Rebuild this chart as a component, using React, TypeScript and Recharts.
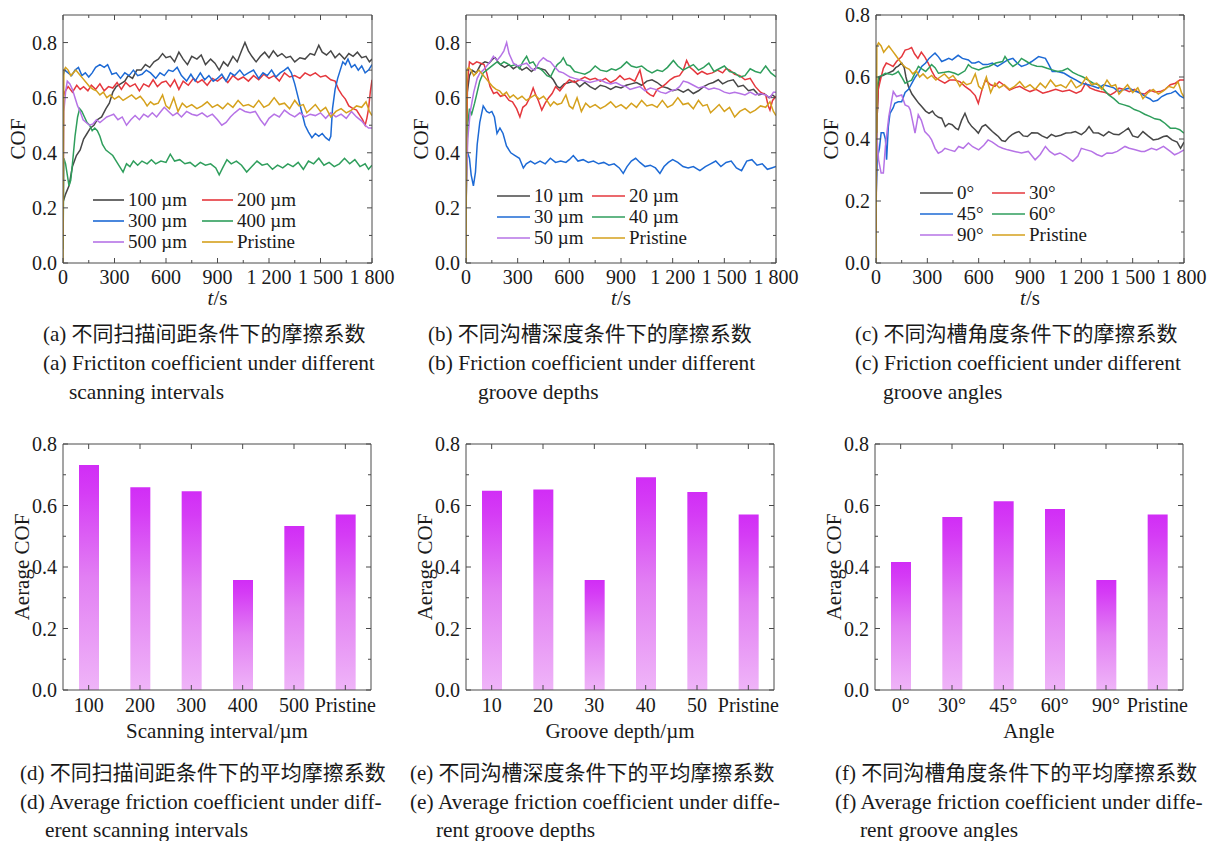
import React from 'react';
import { LineChart, Line, BarChart, Bar, XAxis, YAxis, Legend } from 'recharts';

type P = [number, number][];

// ---------- tick values / labels ----------
const TIME_MAJOR = [0, 300, 600, 900, 1200, 1500, 1800];
const TIME_LABELS = ['0', '300', '600', '900', '1 200', '1 500', '1 800'];
const TIME_MINOR = [150, 450, 750, 1050, 1350, 1650];
const COF_MAJOR = [0, 0.2, 0.4, 0.6, 0.8];
const COF_LABELS = ['0.0', '0.2', '0.4', '0.6', '0.8'];
const COF_MINOR = [0.1, 0.3, 0.5, 0.7];

// ---------- (a) scanning interval ----------
const A_NAMES = ['100 µm', '200 µm', '300 µm', '400 µm', '500 µm', 'Pristine'];
const A_100: P = [[0,0.22],[15,0.25],[35,0.28],[55,0.35],[78,0.39],[100,0.41],[120,0.45],[140,0.47],[160,0.49],[180,0.50],[200,0.52],[225,0.53],[250,0.56],[270,0.58],[290,0.62],[310,0.64],[335,0.65],[360,0.66],[380,0.68],[405,0.67],[430,0.70],[455,0.70],[480,0.72],[505,0.71],[530,0.73],[555,0.74],[580,0.76],[600,0.745],[625,0.75],[650,0.73],[675,0.765],[700,0.74],[725,0.72],[750,0.75],[780,0.74],[805,0.755],[830,0.72],[860,0.74],[885,0.725],[910,0.70],[935,0.73],[960,0.715],[990,0.75],[1015,0.73],[1040,0.77],[1060,0.80],[1080,0.77],[1100,0.75],[1125,0.73],[1150,0.75],[1175,0.765],[1200,0.745],[1225,0.77],[1250,0.75],[1275,0.76],[1300,0.745],[1325,0.75],[1350,0.73],[1380,0.745],[1410,0.74],[1440,0.76],[1465,0.755],[1490,0.79],[1510,0.765],[1535,0.755],[1560,0.77],[1585,0.745],[1610,0.76],[1640,0.74],[1665,0.76],[1690,0.75],[1715,0.765],[1740,0.745],[1765,0.75],[1785,0.73],[1800,0.74]];
const A_200: P = [[0,0.60],[10,0.62],[30,0.64],[55,0.62],[80,0.645],[100,0.63],[120,0.64],[145,0.625],[165,0.645],[190,0.63],[215,0.65],[240,0.625],[265,0.64],[290,0.635],[315,0.655],[340,0.63],[365,0.655],[390,0.64],[420,0.65],[445,0.625],[470,0.65],[500,0.64],[525,0.665],[550,0.64],[575,0.655],[600,0.66],[625,0.64],[650,0.665],[675,0.63],[700,0.66],[730,0.645],[760,0.67],[785,0.655],[810,0.665],[840,0.645],[870,0.67],[900,0.66],[930,0.675],[960,0.655],[990,0.68],[1020,0.665],[1050,0.675],[1080,0.66],[1110,0.68],[1140,0.665],[1170,0.685],[1200,0.67],[1230,0.68],[1260,0.66],[1290,0.69],[1320,0.675],[1350,0.68],[1380,0.67],[1410,0.69],[1440,0.68],[1470,0.69],[1500,0.675],[1530,0.68],[1560,0.665],[1585,0.66],[1605,0.63],[1625,0.61],[1645,0.595],[1665,0.57],[1690,0.56],[1710,0.555],[1730,0.535],[1745,0.52],[1760,0.50],[1770,0.525],[1780,0.56],[1790,0.62],[1800,0.665]];
const A_300: P = [[0,0.68],[10,0.70],[30,0.69],[50,0.68],[70,0.70],[90,0.71],[110,0.68],[130,0.69],[150,0.675],[170,0.69],[190,0.71],[215,0.72],[240,0.71],[260,0.72],[285,0.685],[310,0.69],[335,0.67],[360,0.69],[385,0.68],[410,0.70],[435,0.68],[460,0.685],[485,0.70],[510,0.69],[540,0.67],[565,0.69],[590,0.68],[615,0.70],[640,0.695],[665,0.71],[690,0.68],[720,0.66],[745,0.685],[770,0.66],[800,0.69],[825,0.665],[850,0.68],[875,0.66],[900,0.67],[925,0.685],[950,0.66],[975,0.69],[1000,0.68],[1030,0.70],[1055,0.68],[1080,0.69],[1110,0.70],[1140,0.67],[1165,0.69],[1190,0.68],[1215,0.70],[1240,0.675],[1265,0.69],[1290,0.70],[1310,0.71],[1330,0.69],[1350,0.65],[1370,0.60],[1390,0.55],[1410,0.50],[1430,0.475],[1450,0.455],[1470,0.47],[1490,0.46],[1510,0.47],[1530,0.455],[1550,0.445],[1560,0.46],[1570,0.56],[1585,0.63],[1600,0.67],[1615,0.70],[1630,0.73],[1645,0.72],[1660,0.74],[1680,0.71],[1700,0.72],[1720,0.70],[1740,0.715],[1760,0.69],[1780,0.70],[1800,0.72]];
const A_400: P = [[0,0.05],[5,0.38],[15,0.36],[25,0.32],[35,0.28],[45,0.30],[55,0.36],[70,0.46],[85,0.53],[97,0.56],[110,0.55],[125,0.53],[140,0.51],[155,0.50],[170,0.48],[185,0.49],[200,0.48],[215,0.46],[230,0.43],[250,0.41],[270,0.40],[290,0.39],[310,0.37],[330,0.35],[350,0.33],[370,0.36],[390,0.35],[410,0.37],[435,0.355],[460,0.37],[490,0.36],[515,0.375],[540,0.36],[570,0.37],[600,0.365],[625,0.395],[650,0.37],[680,0.375],[710,0.36],[740,0.365],[770,0.35],[800,0.365],[830,0.355],[860,0.36],[890,0.345],[910,0.32],[930,0.345],[955,0.375],[980,0.36],[1010,0.37],[1040,0.355],[1070,0.33],[1100,0.35],[1130,0.37],[1160,0.355],[1190,0.36],[1220,0.34],[1250,0.355],[1280,0.345],[1310,0.36],[1340,0.35],[1370,0.365],[1400,0.34],[1430,0.37],[1460,0.36],[1490,0.38],[1520,0.355],[1550,0.365],[1580,0.35],[1610,0.36],[1640,0.38],[1670,0.36],[1700,0.375],[1730,0.35],[1760,0.36],[1780,0.34],[1800,0.355]];
const A_500: P = [[0,0.10],[5,0.55],[15,0.62],[25,0.66],[40,0.65],[55,0.63],[70,0.60],[85,0.57],[100,0.55],[117,0.52],[135,0.51],[155,0.50],[175,0.505],[195,0.52],[215,0.51],[235,0.52],[255,0.53],[275,0.535],[295,0.54],[320,0.52],[345,0.53],[370,0.50],[395,0.52],[420,0.535],[445,0.52],[470,0.54],[495,0.53],[520,0.545],[545,0.53],[570,0.55],[590,0.565],[615,0.55],[640,0.535],[665,0.545],[690,0.53],[720,0.55],[750,0.54],[780,0.535],[810,0.545],[840,0.53],[870,0.54],[900,0.52],[925,0.50],[950,0.51],[975,0.53],[1000,0.545],[1030,0.56],[1060,0.55],[1090,0.545],[1120,0.55],[1150,0.52],[1175,0.50],[1200,0.525],[1230,0.54],[1260,0.53],[1290,0.555],[1320,0.54],[1350,0.53],[1380,0.545],[1410,0.53],[1440,0.54],[1470,0.535],[1500,0.545],[1530,0.525],[1560,0.545],[1590,0.53],[1620,0.54],[1650,0.525],[1680,0.55],[1710,0.53],[1740,0.515],[1760,0.50],[1780,0.49],[1800,0.49]];
const PRISTINE: P = [[0,0.0],[5,0.70],[15,0.71],[30,0.70],[45,0.68],[60,0.69],[75,0.70],[95,0.685],[115,0.67],[135,0.655],[155,0.64],[175,0.63],[195,0.625],[215,0.61],[235,0.62],[255,0.60],[275,0.61],[300,0.595],[325,0.605],[350,0.59],[375,0.60],[400,0.61],[425,0.595],[450,0.605],[470,0.59],[490,0.57],[510,0.585],[530,0.575],[555,0.58],[580,0.61],[600,0.57],[620,0.56],[645,0.60],[670,0.55],[695,0.58],[720,0.565],[750,0.575],[780,0.56],[810,0.57],[840,0.585],[870,0.565],[900,0.575],[930,0.56],[960,0.58],[990,0.565],[1020,0.59],[1050,0.57],[1080,0.575],[1110,0.565],[1140,0.59],[1170,0.565],[1200,0.575],[1230,0.60],[1260,0.575],[1290,0.58],[1320,0.56],[1350,0.59],[1375,0.57],[1400,0.575],[1420,0.545],[1445,0.56],[1470,0.575],[1500,0.55],[1530,0.565],[1560,0.53],[1590,0.55],[1620,0.56],[1650,0.545],[1680,0.555],[1710,0.57],[1740,0.565],[1765,0.585],[1785,0.55],[1800,0.535]];

// ---------- (b) groove depth ----------
const B_NAMES = ['10 µm', '20 µm', '30 µm', '40 µm', '50 µm', 'Pristine'];
const B_10: P = [[0,0.3],[8,0.62],[20,0.68],[35,0.70],[60,0.69],[85,0.72],[110,0.73],[135,0.725],[155,0.74],[170,0.745],[185,0.73],[200,0.72],[225,0.71],[250,0.72],[275,0.705],[300,0.715],[325,0.70],[352,0.71],[380,0.695],[410,0.71],[435,0.705],[460,0.70],[485,0.68],[507,0.665],[530,0.64],[546,0.635],[570,0.65],[600,0.655],[630,0.66],[660,0.64],[690,0.655],[720,0.64],[750,0.63],[780,0.645],[810,0.64],[840,0.63],[870,0.64],[900,0.635],[930,0.645],[960,0.65],[990,0.655],[1020,0.645],[1050,0.66],[1080,0.665],[1110,0.655],[1140,0.64],[1170,0.635],[1200,0.625],[1230,0.63],[1262,0.62],[1290,0.63],[1320,0.615],[1350,0.625],[1380,0.64],[1410,0.65],[1436,0.655],[1465,0.665],[1490,0.65],[1520,0.66],[1552,0.665],[1580,0.64],[1610,0.645],[1640,0.625],[1670,0.63],[1700,0.61],[1730,0.615],[1760,0.60],[1780,0.61],[1800,0.60]];
const B_20: P = [[0,0.2],[8,0.65],[20,0.73],[40,0.72],[62,0.73],[85,0.725],[105,0.72],[120,0.69],[140,0.64],[160,0.615],[180,0.62],[200,0.605],[225,0.61],[250,0.59],[270,0.585],[294,0.56],[313,0.53],[330,0.565],[350,0.575],[370,0.60],[390,0.635],[405,0.61],[420,0.59],[440,0.555],[460,0.58],[480,0.60],[500,0.615],[520,0.64],[545,0.625],[570,0.645],[600,0.665],[630,0.655],[660,0.665],[690,0.675],[720,0.665],[750,0.67],[780,0.66],[810,0.67],[840,0.655],[870,0.665],[894,0.68],[920,0.665],[950,0.67],[980,0.66],[1010,0.70],[1030,0.645],[1050,0.62],[1070,0.61],[1088,0.605],[1110,0.63],[1140,0.64],[1160,0.65],[1185,0.665],[1210,0.675],[1240,0.68],[1262,0.70],[1281,0.735],[1300,0.71],[1320,0.70],[1345,0.685],[1370,0.695],[1400,0.685],[1430,0.69],[1460,0.70],[1490,0.69],[1510,0.705],[1532,0.70],[1560,0.685],[1590,0.68],[1620,0.665],[1650,0.67],[1680,0.64],[1710,0.62],[1740,0.61],[1755,0.57],[1765,0.555],[1780,0.59],[1800,0.605]];
const B_30: P = [[0,0.38],[10,0.40],[20,0.38],[30,0.32],[43,0.28],[55,0.33],[65,0.43],[80,0.51],[100,0.57],[120,0.55],[135,0.545],[150,0.55],[165,0.53],[180,0.47],[197,0.49],[215,0.47],[235,0.425],[260,0.40],[285,0.39],[310,0.38],[333,0.345],[350,0.36],[375,0.37],[400,0.36],[430,0.37],[460,0.36],[490,0.38],[520,0.365],[550,0.37],[580,0.365],[600,0.375],[623,0.39],[650,0.37],[680,0.375],[710,0.365],[740,0.37],[770,0.36],[800,0.365],[830,0.355],[860,0.36],[890,0.345],[913,0.325],[935,0.35],[960,0.37],[985,0.38],[1010,0.365],[1040,0.35],[1070,0.355],[1100,0.345],[1126,0.325],[1150,0.35],[1175,0.365],[1200,0.375],[1230,0.365],[1260,0.35],[1290,0.345],[1320,0.35],[1358,0.335],[1390,0.35],[1420,0.36],[1450,0.37],[1480,0.35],[1510,0.365],[1540,0.37],[1570,0.345],[1600,0.335],[1630,0.37],[1660,0.375],[1690,0.355],[1720,0.36],[1750,0.34],[1775,0.345],[1800,0.35]];
const B_40: P = [[0,0.2],[10,0.5],[20,0.56],[33,0.54],[50,0.58],[65,0.62],[80,0.66],[100,0.69],[120,0.70],[140,0.71],[160,0.72],[180,0.73],[200,0.72],[220,0.73],[236,0.725],[260,0.715],[290,0.72],[310,0.705],[330,0.73],[352,0.75],[370,0.725],[390,0.73],[410,0.71],[430,0.705],[449,0.695],[470,0.68],[490,0.675],[510,0.70],[530,0.72],[550,0.73],[565,0.745],[585,0.72],[605,0.715],[630,0.695],[660,0.69],[690,0.685],[720,0.695],[750,0.715],[780,0.70],[817,0.695],[845,0.705],[870,0.70],[900,0.71],[933,0.73],[960,0.715],[990,0.71],[1020,0.715],[1050,0.70],[1080,0.69],[1110,0.70],[1140,0.695],[1170,0.71],[1204,0.735],[1230,0.715],[1260,0.70],[1290,0.71],[1320,0.72],[1350,0.70],[1380,0.71],[1410,0.725],[1440,0.695],[1470,0.705],[1500,0.715],[1530,0.695],[1560,0.69],[1590,0.675],[1620,0.68],[1650,0.705],[1680,0.695],[1710,0.69],[1740,0.715],[1770,0.69],[1800,0.675]];
const B_50: P = [[0,0.2],[10,0.45],[25,0.55],[45,0.62],[65,0.67],[81,0.69],[100,0.70],[120,0.715],[140,0.73],[159,0.75],[180,0.735],[200,0.75],[220,0.77],[236,0.80],[250,0.76],[275,0.725],[300,0.715],[325,0.72],[352,0.725],[380,0.705],[400,0.70],[425,0.73],[449,0.745],[470,0.735],[490,0.73],[510,0.715],[540,0.695],[565,0.69],[590,0.68],[604,0.675],[630,0.67],[660,0.665],[690,0.66],[720,0.655],[750,0.66],[780,0.665],[810,0.655],[840,0.65],[870,0.655],[900,0.645],[930,0.64],[952,0.63],[980,0.635],[1010,0.64],[1040,0.625],[1070,0.635],[1100,0.63],[1130,0.62],[1160,0.615],[1190,0.625],[1220,0.63],[1240,0.64],[1262,0.66],[1290,0.655],[1320,0.645],[1350,0.635],[1380,0.64],[1410,0.63],[1440,0.635],[1470,0.63],[1500,0.62],[1530,0.615],[1560,0.62],[1590,0.615],[1620,0.61],[1650,0.62],[1680,0.61],[1710,0.615],[1740,0.61],[1765,0.60],[1785,0.62],[1800,0.62]];

// ---------- (c) groove angle ----------
const C_NAMES = ['0°', '30°', '45°', '60°', '90°', 'Pristine'];
const C_0: P = [[0,0.2],[5,0.45],[15,0.58],[23,0.60],[40,0.605],[60,0.61],[80,0.615],[100,0.62],[115,0.63],[130,0.635],[150,0.645],[165,0.63],[175,0.60],[189,0.57],[210,0.545],[230,0.53],[250,0.515],[267,0.505],[290,0.49],[310,0.483],[330,0.49],[345,0.478],[365,0.47],[384,0.467],[405,0.44],[425,0.45],[445,0.446],[465,0.435],[481,0.43],[500,0.46],[520,0.483],[540,0.455],[560,0.44],[580,0.43],[598,0.419],[620,0.44],[640,0.446],[660,0.435],[680,0.424],[700,0.415],[715,0.408],[735,0.395],[755,0.392],[775,0.405],[795,0.414],[815,0.42],[835,0.424],[860,0.41],[885,0.408],[910,0.42],[945,0.419],[970,0.41],[1000,0.403],[1025,0.415],[1050,0.408],[1080,0.412],[1110,0.419],[1140,0.42],[1165,0.424],[1200,0.414],[1225,0.425],[1245,0.44],[1270,0.42],[1300,0.419],[1330,0.41],[1360,0.424],[1390,0.415],[1420,0.414],[1450,0.425],[1475,0.435],[1500,0.41],[1530,0.405],[1560,0.424],[1590,0.41],[1620,0.397],[1650,0.40],[1680,0.408],[1700,0.41],[1730,0.397],[1760,0.39],[1780,0.37],[1800,0.39]];
const C_30: P = [[0,0.1],[5,0.45],[13,0.56],[30,0.60],[43,0.628],[60,0.645],[80,0.64],[100,0.634],[120,0.65],[150,0.666],[170,0.687],[190,0.69],[208,0.695],[225,0.675],[245,0.66],[265,0.68],[285,0.665],[305,0.645],[325,0.62],[345,0.60],[370,0.59],[402,0.58],[430,0.59],[460,0.59],[490,0.585],[520,0.57],[550,0.558],[580,0.54],[598,0.515],[620,0.56],[640,0.59],[670,0.575],[695,0.57],[720,0.585],[745,0.575],[780,0.558],[810,0.565],[840,0.57],[870,0.56],[900,0.553],[935,0.56],[975,0.548],[1010,0.553],[1050,0.56],[1090,0.553],[1130,0.558],[1170,0.548],[1200,0.555],[1225,0.58],[1250,0.565],[1280,0.558],[1310,0.553],[1340,0.55],[1370,0.542],[1395,0.55],[1420,0.564],[1450,0.56],[1480,0.553],[1510,0.56],[1540,0.548],[1570,0.545],[1600,0.558],[1630,0.552],[1660,0.553],[1690,0.56],[1720,0.575],[1750,0.58],[1775,0.59],[1800,0.59]];
const C_45: P = [[0,0.2],[8,0.34],[20,0.37],[30,0.42],[45,0.42],[55,0.40],[62,0.333],[72,0.44],[82,0.483],[100,0.50],[110,0.515],[130,0.52],[150,0.52],[170,0.55],[190,0.56],[210,0.58],[230,0.60],[250,0.615],[267,0.634],[290,0.645],[310,0.66],[330,0.67],[345,0.677],[365,0.665],[384,0.65],[405,0.655],[425,0.66],[445,0.655],[480,0.67],[505,0.66],[540,0.655],[560,0.645],[579,0.645],[600,0.65],[625,0.64],[650,0.64],[680,0.645],[710,0.634],[740,0.645],[770,0.655],[800,0.66],[825,0.645],[850,0.634],[880,0.64],[910,0.65],[950,0.666],[990,0.66],[1010,0.64],[1030,0.618],[1060,0.618],[1100,0.612],[1135,0.60],[1170,0.59],[1200,0.58],[1240,0.575],[1270,0.57],[1300,0.564],[1330,0.575],[1360,0.57],[1390,0.565],[1420,0.553],[1450,0.56],[1480,0.564],[1510,0.555],[1540,0.55],[1560,0.542],[1580,0.535],[1600,0.53],[1620,0.521],[1645,0.525],[1670,0.537],[1700,0.545],[1725,0.548],[1750,0.555],[1775,0.54],[1800,0.532]];
const C_60: P = [[0,0.2],[5,0.55],[14,0.60],[35,0.605],[55,0.612],[75,0.61],[95,0.607],[115,0.612],[130,0.618],[150,0.60],[170,0.58],[190,0.585],[208,0.59],[230,0.615],[248,0.634],[270,0.625],[290,0.618],[310,0.63],[325,0.64],[345,0.63],[365,0.612],[400,0.615],[425,0.618],[460,0.612],[480,0.607],[520,0.62],[540,0.64],[560,0.63],[600,0.623],[630,0.63],[660,0.634],[700,0.645],[740,0.65],[754,0.666],[780,0.645],[800,0.634],[830,0.645],[850,0.66],[880,0.65],[910,0.64],[940,0.635],[970,0.634],[1000,0.628],[1030,0.623],[1060,0.618],[1090,0.62],[1120,0.628],[1150,0.615],[1180,0.607],[1210,0.60],[1240,0.59],[1270,0.58],[1300,0.575],[1330,0.56],[1360,0.542],[1390,0.53],[1420,0.515],[1450,0.51],[1480,0.505],[1510,0.495],[1540,0.489],[1570,0.48],[1600,0.473],[1630,0.465],[1660,0.462],[1690,0.45],[1720,0.435],[1750,0.435],[1775,0.43],[1800,0.419]];
const C_90: P = [[0,0.15],[4,0.42],[15,0.333],[30,0.29],[43,0.29],[55,0.376],[75,0.473],[90,0.52],[101,0.553],[120,0.537],[150,0.542],[170,0.51],[190,0.505],[200,0.494],[213,0.46],[228,0.419],[247,0.478],[265,0.46],[285,0.424],[310,0.41],[325,0.397],[345,0.37],[364,0.354],[385,0.36],[403,0.37],[430,0.365],[460,0.36],[483,0.376],[510,0.37],[540,0.387],[565,0.375],[600,0.365],[630,0.38],[655,0.397],[680,0.39],[715,0.376],[740,0.37],[770,0.365],[810,0.36],[850,0.355],[890,0.36],[930,0.333],[960,0.35],[990,0.376],[1015,0.36],[1045,0.349],[1075,0.355],[1110,0.344],[1150,0.328],[1180,0.345],[1200,0.37],[1230,0.365],[1260,0.36],[1290,0.35],[1320,0.344],[1350,0.355],[1380,0.354],[1410,0.36],[1455,0.376],[1480,0.37],[1515,0.365],[1550,0.36],[1570,0.36],[1610,0.37],[1640,0.365],[1680,0.376],[1720,0.36],[1745,0.349],[1770,0.355],[1800,0.365]];

// ---------- bar panels ----------
const D_CATS = ['100', '200', '300', '400', '500', 'Pristine'];
const D_VALUES = [0.732, 0.659, 0.646, 0.358, 0.533, 0.571];
const E_CATS = ['10', '20', '30', '40', '50', 'Pristine'];
const E_VALUES = [0.648, 0.652, 0.358, 0.692, 0.644, 0.571];
const F_CATS = ['0°', '30°', '45°', '60°', '90°', 'Pristine'];
const F_VALUES = [0.416, 0.563, 0.614, 0.589, 0.358, 0.571];

const COLORS = ['#474747', '#e5373d', '#1d6ad5', '#2f9e5c', '#b673e6', '#d5a11d'];

const CAPTIONS_TOP = [
  ['(a) 不同扫描间距条件下的摩擦系数', '(a) Frictiton coefficient under different', 'scanning intervals'],
  ['(b) 不同沟槽深度条件下的摩擦系数', '(b) Friction coefficient under different', 'groove depths'],
  ['(c) 不同沟槽角度条件下的摩擦系数', '(c) Friction coefficient under different', 'groove angles'],
];
const CAPTIONS_BOTTOM = [
  ['(d) 不同扫描间距条件下的平均摩擦系数', '(d) Average friction coefficient under diff-', 'erent scanning intervals'],
  ['(e) 不同沟槽深度条件下的平均摩擦系数', '(e) Average friction coefficient under diffe-', 'rent groove depths'],
  ['(f) 不同沟槽角度条件下的平均摩擦系数', '(f) Average friction coefficient under diffe-', 'rent groove angles'],
];

// ---------- styling ----------
const SERIF = '"Liberation Serif", "Times New Roman", serif';
const CJK = '"Liberation Serif", "Noto Sans CJK SC", sans-serif';
const AX = '#4a4a4a';
const TXT = '#1a1a1a';

const sortNum = (a: number[]) => [...a].sort((x, y) => x - y);
const near = (a: number, b: number) => Math.abs(a - b) < 1e-9;
const labelFrom = (vals: number[], labels: string[]) => (v: number) => {
  const i = vals.findIndex((u) => near(u, v));
  return i >= 0 ? labels[i] : null;
};
const isIn = (vals: number[]) => (v: number) => vals.some((u) => near(u, v));

type Side = 'bottom' | 'top' | 'left' | 'right';
const makeTick = (side: Side, labelOf: ((v: any) => string | null) | null, isMajor: (v: any) => boolean, labelOff = 14) =>
  (props: any) => {
    const { x, y, payload } = props;
    const v = payload.value;
    const len = isMajor(v) ? 5 : 3;
    let x2 = x, y2 = y;
    if (side === 'bottom') y2 = y - len;
    else if (side === 'top') y2 = y + len;
    else if (side === 'left') x2 = x + len;
    else x2 = x - len;
    const lab = labelOf ? labelOf(v) : null;
    return (
      <g>
        <line x1={x} y1={y} x2={x2} y2={y2} stroke={AX} strokeWidth={1} />
        {lab != null && side === 'bottom' && (
          <text x={x} y={y + labelOff} textAnchor="middle" dominantBaseline="central" fontFamily={SERIF} fontSize={20} fill={TXT}>{lab}</text>
        )}
        {lab != null && side === 'left' && (
          <text x={x - 6} y={y} textAnchor="end" dominantBaseline="central" fontFamily={SERIF} fontSize={20} fill={TXT}>{lab}</text>
        )}
      </g>
    );
  };

const yTitle = (text: string, off: number) => (p: any) => {
  const vb = p.viewBox || {};
  const cx = vb.x + vb.width - off;
  const cy = vb.y + vb.height / 2;
  return (
    <text x={cx} y={cy} transform={`rotate(-90 ${cx} ${cy})`} textAnchor="middle" dominantBaseline="central" fontFamily={SERIF} fontSize={21} fill={TXT}>{text}</text>
  );
};
const xTitle = (content: React.ReactNode, off: number) => (p: any) => {
  const vb = p.viewBox || {};
  return (
    <text x={vb.x + vb.width / 2} y={vb.y + off} textAnchor="middle" dominantBaseline="central" fontFamily={SERIF} fontSize={21} fill={TXT}>{content}</text>
  );
};

function LegendGrid({ names, colW, lineW, rowH }: { names: string[]; colW: number; lineW: number; rowH: number }) {
  return (
    <div style={{ display: 'grid', gridTemplateColumns: `${colW}px auto`, fontFamily: SERIF, fontSize: 19, color: TXT }}>
      {names.map((n, i) => (
        <div key={n} style={{ display: 'flex', alignItems: 'center', height: rowH, whiteSpace: 'nowrap' }}>
          <svg width={lineW} height={4} style={{ marginRight: 4, flex: 'none' }}>
            <line x1={0} y1={2} x2={lineW} y2={2} stroke={COLORS[i]} strokeWidth={1.6} />
          </svg>
          <span style={{ lineHeight: 1 }}>{n}</span>
        </div>
      ))}
    </div>
  );
}

const toPts = (p: P) => p.map(([t, v]) => ({ t, v }));

function LinePanel(props: { plotLeft: number; plotW: number; yMax: number; series: P[]; names: string[]; legend: { left: number; top: number; colW: number; lineW: number; rowH: number } }) {
  const { plotLeft, plotW, yMax, series, names, legend } = props;
  const plotTop = 15, plotH = 248, bottomH = 50;
  const W = 63 + plotW + 30, H = 15 + plotH + bottomH;
  const timeAll = sortNum([...TIME_MAJOR, ...TIME_MINOR]);
  const yMinor = COF_MINOR.filter((v) => v < yMax);
  const yAll = sortNum([...COF_MAJOR, ...yMinor]);
  const tLab = labelFrom(TIME_MAJOR, TIME_LABELS);
  const yLab = labelFrom(COF_MAJOR, COF_LABELS);
  return (
    <div style={{ position: 'absolute', left: plotLeft - 63, top: plotTop - 15, width: W, height: H }}>
      <LineChart width={W} height={H} margin={{ top: 10, right: 25, bottom: 0, left: 0 }}>
        <XAxis xAxisId="b" dataKey="t" type="number" domain={[0, 1800]} allowDataOverflow ticks={timeAll} interval={0} tickSize={0} tickMargin={0}
          tick={makeTick('bottom', tLab, isIn(TIME_MAJOR), 14)} axisLine={{ stroke: AX }} height={bottomH}
          label={xTitle(<><tspan fontStyle="italic">t</tspan><tspan>/s</tspan></>, 35)} />
        <XAxis xAxisId="t" orientation="top" dataKey="t" type="number" domain={[0, 1800]} allowDataOverflow ticks={timeAll} interval={0} tickSize={0} tickMargin={0}
          tick={makeTick('top', null, isIn(TIME_MAJOR))} axisLine={{ stroke: AX }} height={5} />
        <YAxis yAxisId="l" type="number" domain={[0, yMax]} allowDataOverflow ticks={yAll} interval={0} tickSize={0} tickMargin={0}
          tick={makeTick('left', yLab, isIn(COF_MAJOR))} axisLine={{ stroke: AX }} width={63} label={yTitle('COF', 45)} />
        <YAxis yAxisId="r" orientation="right" type="number" domain={[0, yMax]} allowDataOverflow ticks={yAll} interval={0} tickSize={0} tickMargin={0}
          tick={makeTick('right', null, isIn(COF_MAJOR))} axisLine={{ stroke: AX }} width={5} />
        {series.map((s, i) => (
          <Line key={names[i]} name={names[i]} xAxisId="b" yAxisId="l" data={toPts(s)} dataKey="v" type="linear" stroke={COLORS[i]} strokeWidth={1.5} dot={false} activeDot={false} isAnimationActive={false} />
        ))}
        <Legend layout="vertical" align="center" verticalAlign="middle"
          wrapperStyle={{ left: legend.left, top: legend.top, width: 'auto', height: 'auto', bottom: 'auto', right: 'auto' }}
          content={() => <LegendGrid names={names} colW={legend.colW} lineW={legend.lineW} rowH={legend.rowH} />} />
      </LineChart>
    </div>
  );
}

function BarPanel(props: { plotLeft: number; cats: string[]; values: number[]; xLabel: string }) {
  const { plotLeft, cats, values, xLabel } = props;
  const plotTop = 444, plotW = 308, plotH = 246, bottomH = 65;
  const W = 63 + plotW + 30, H = 15 + plotH + bottomH;
  const rows = cats.map((c, i) => ({ name: c, value: values[i] }));
  const yAll = sortNum([...COF_MAJOR, ...COF_MINOR]);
  const yLab = labelFrom(COF_MAJOR, COF_LABELS);
  return (
    <div style={{ position: 'absolute', left: plotLeft - 63, top: plotTop - 15, width: W, height: H }}>
      <BarChart width={W} height={H} data={rows} margin={{ top: 10, right: 25, bottom: 0, left: 0 }} barSize={20}>
        <XAxis xAxisId="b" dataKey="name" type="category" interval={0} tickSize={0} tickMargin={0}
          tick={makeTick('bottom', (v) => String(v), () => true, 15)} axisLine={{ stroke: AX }} height={bottomH}
          label={xTitle(xLabel, 41)} />
        <XAxis xAxisId="t" orientation="top" dataKey="name" type="category" interval={0} tickSize={0} tickMargin={0}
          tick={makeTick('top', null, () => true)} axisLine={{ stroke: AX }} height={5} />
        <YAxis yAxisId="l" type="number" domain={[0, 0.8]} allowDataOverflow ticks={yAll} interval={0} tickSize={0} tickMargin={0}
          tick={makeTick('left', yLab, isIn(COF_MAJOR))} axisLine={{ stroke: AX }} width={63} label={yTitle('Aerage COF', 41)} />
        <YAxis yAxisId="r" orientation="right" type="number" domain={[0, 0.8]} allowDataOverflow ticks={yAll} interval={0} tickSize={0} tickMargin={0}
          tick={makeTick('right', null, isIn(COF_MAJOR))} axisLine={{ stroke: AX }} width={5} />
        <Bar xAxisId="b" yAxisId="l" dataKey="value" fill="url(#barGrad)" isAnimationActive={false} />
      </BarChart>
    </div>
  );
}

function Caption({ lines, x, y, indent }: { lines: string[]; x: number; y: number[]; indent: number }) {
  return (
    <>
      <div style={{ position: 'absolute', left: x, top: y[0] - 13, height: 26, lineHeight: '26px', fontFamily: CJK, fontSize: 21, color: TXT, whiteSpace: 'nowrap' }}>{lines[0]}</div>
      <div style={{ position: 'absolute', left: x, top: y[1] - 13, height: 26, lineHeight: '26px', fontFamily: SERIF, fontSize: 21.4, color: TXT, whiteSpace: 'nowrap' }}>{lines[1]}</div>
      <div style={{ position: 'absolute', left: x + indent, top: y[2] - 13, height: 26, lineHeight: '26px', fontFamily: SERIF, fontSize: 21.4, color: TXT, whiteSpace: 'nowrap' }}>{lines[2]}</div>
    </>
  );
}

export default function App() {
  return (
    <div style={{ position: 'absolute', left: 0, top: 0, width: 1215, height: 841, background: '#fff', overflow: 'hidden' }}>
      <svg width={0} height={0} style={{ position: 'absolute' }}>
        <defs>
          <linearGradient id="barGrad" x1="0" y1="0" x2="0" y2="1">
            <stop offset="0%" stopColor="#d12df6" />
            <stop offset="12%" stopColor="#d53cf5" />
            <stop offset="50%" stopColor="#e27ff3" />
            <stop offset="100%" stopColor="#efb4f8" />
          </linearGradient>
        </defs>
      </svg>

      <LinePanel plotLeft={63} plotW={309} yMax={0.9} series={[A_100, A_200, A_300, A_400, A_500, PRISTINE]} names={A_NAMES}
        legend={{ left: 93, top: 189, colW: 109, lineW: 31, rowH: 21 }} />
      <LinePanel plotLeft={466} plotW={310} yMax={0.9} series={[B_10, B_20, B_30, B_40, B_50, PRISTINE]} names={B_NAMES}
        legend={{ left: 94, top: 185, colW: 95, lineW: 33, rowH: 21 }} />
      <LinePanel plotLeft={876} plotW={308} yMax={0.8} series={[C_0, C_30, C_45, C_60, C_90, PRISTINE]} names={C_NAMES}
        legend={{ left: 107, top: 182, colW: 72, lineW: 33, rowH: 21 }} />

      <BarPanel plotLeft={63} cats={D_CATS} values={D_VALUES} xLabel="Scanning interval/µm" />
      <BarPanel plotLeft={466} cats={E_CATS} values={E_VALUES} xLabel="Groove depth/µm" />
      <BarPanel plotLeft={875} cats={F_CATS} values={F_VALUES} xLabel="Angle" />

      <Caption lines={CAPTIONS_TOP[0]} x={43} y={[334, 363, 392]} indent={26} />
      <Caption lines={CAPTIONS_TOP[1]} x={428} y={[334, 363, 392]} indent={50} />
      <Caption lines={CAPTIONS_TOP[2]} x={855} y={[334, 363, 392]} indent={28} />
      <Caption lines={CAPTIONS_BOTTOM[0]} x={20} y={[773, 802, 830]} indent={25} />
      <Caption lines={CAPTIONS_BOTTOM[1]} x={410} y={[773, 802, 830]} indent={26} />
      <Caption lines={CAPTIONS_BOTTOM[2]} x={835} y={[773, 802, 830]} indent={25} />
    </div>
  );
}
